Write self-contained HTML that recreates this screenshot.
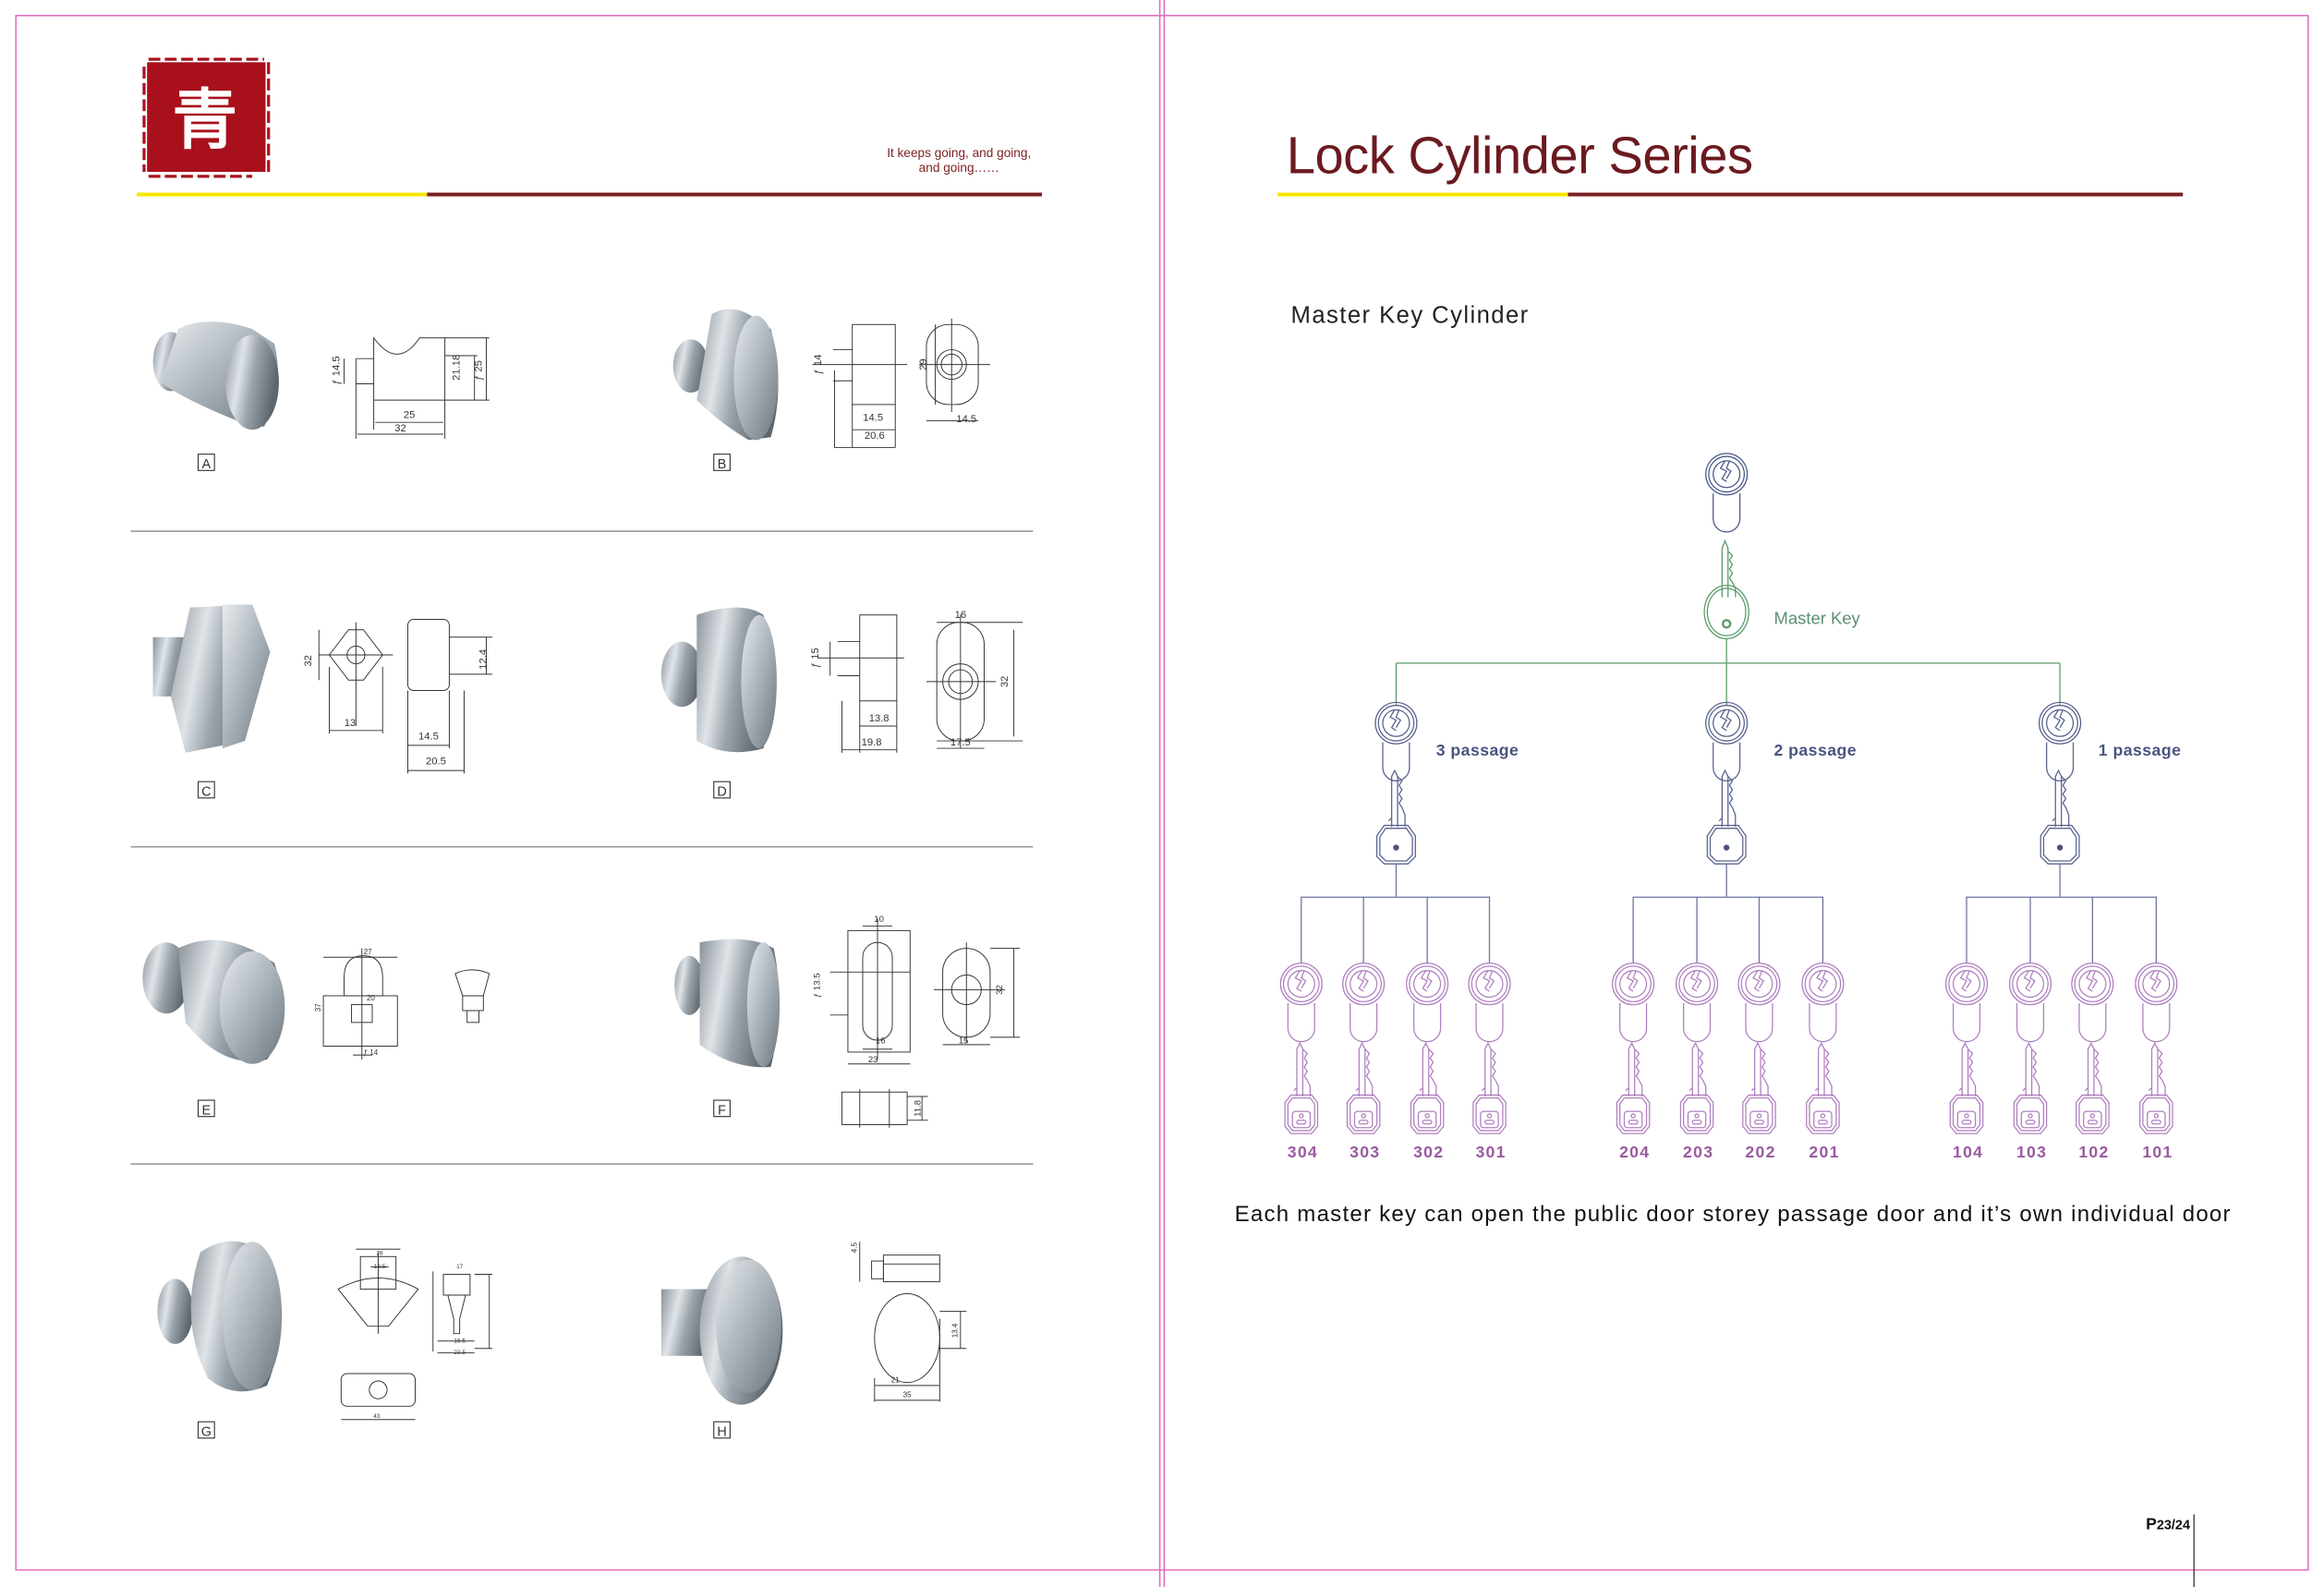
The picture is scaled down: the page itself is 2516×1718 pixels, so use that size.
<!DOCTYPE html>
<html><head><meta charset="utf-8"><style>
html,body{margin:0;padding:0;background:#fff}
svg{display:block}
text{font-family:"Liberation Sans",sans-serif}
</style></head><body>
<svg width="2516" height="1718" viewBox="0 0 1568 1071" xmlns="http://www.w3.org/2000/svg">
<defs>
<linearGradient id="met" x1="0" y1="0" x2="1" y2="0.3">
<stop offset="0" stop-color="#8a9299"/><stop offset="0.35" stop-color="#dfe4e8"/><stop offset="0.6" stop-color="#9aa3ab"/><stop offset="1" stop-color="#5e666d"/></linearGradient>
<linearGradient id="met2" x1="0" y1="0" x2="1" y2="1">
<stop offset="0" stop-color="#e8ecef"/><stop offset="0.5" stop-color="#a9b2b9"/><stop offset="1" stop-color="#6d757c"/></linearGradient>
<g id="cyl" fill="none" stroke-width="0.8">
<circle r="14"/><circle r="12"/><circle r="9"/>
<path d="M-1,-9 l-3,5 l4,2 l-3,5 l3,2 M2,-9 l-2,5 l3,2 l-3,5"/>
<path d="M-9,13 V30 a9,9 0 0 0 18,0 V13"/>
</g>
<g id="key" fill="none" stroke-width="0.8">
<path d="M-3,-10 V-44 l2,-4 l2,4 V-10 M1,-44 l3,3 l-2,3 l2,3 l-2,3 l2,3 l-2,3 l2,3 l2,5 V-10 M-3,-16 l-2,2"/>
<path d="M-13,-4 l5,-7 h16 l5,7 v14 l-5,5 h-16 l-5,-5z"/>
<path d="M-11,-3 l4,-6 h14 l4,6 v12 l-4,4 h-14 l-4,-4z"/>
</g>
<g id="skey" fill="none" stroke-width="0.8">
<path d="M-3,-8 V-40 l2,-4 l2,4 V-8 M1,-40 l3,3 l-2,3 l2,3 l-2,3 l2,3 l-2,3 l2,3 l2,4 V-8 M-3,-14 l-2,2"/>
<path d="M-11,-4 l4,-5 h14 l4,5 v16 l-4,5 h-14 l-4,-5z"/>
<path d="M-9,-3 l3,-4 h12 l3,4 v14 l-3,4 h-12 l-3,-4z"/>
<rect x="-6" y="2" width="12" height="11" rx="2"/><circle cx="0" cy="5" r="1.3"/><rect x="-3" y="8" width="6" height="2.5" rx="1.2"/>
</g>
</defs>

<!-- page frame -->
<g stroke="#e070c0" stroke-width="1" fill="none">
<rect x="10.5" y="10.5" width="1547" height="1049"/>
<line x1="782.5" y1="0" x2="782.5" y2="1071"/><line x1="785.5" y1="0" x2="785.5" y2="1071"/>
</g>

<!-- left header -->
<rect x="99" y="42" width="80" height="74" fill="#a8101c"/>
<path d="M97,45 V116 M181,42 V118 M100,40 H178 M100,119 H170" stroke="#a8101c" stroke-width="2" stroke-dasharray="8 3"/>
<text x="138" y="96" font-size="44" fill="#fff" text-anchor="middle" font-family="Noto Serif CJK SC,serif" font-weight="bold">青</text>
<text x="647" y="106" font-size="8.5" fill="#7a1f22" text-anchor="middle">It keeps going, and going,</text>
<text x="647" y="116" font-size="8.5" fill="#7a1f22" text-anchor="middle">and going……</text>
<rect x="92" y="130" width="196" height="2.5" fill="#f6e600"/>
<rect x="288" y="130" width="415" height="2.5" fill="#7a1f22"/>

<!-- separators -->
<g stroke="#999" stroke-width="1"><line x1="88" y1="358.5" x2="697" y2="358.5"/><line x1="88" y1="571.5" x2="697" y2="571.5"/><line x1="88" y1="785.5" x2="697" y2="785.5"/></g>

<!-- products -->
<g>
<!-- A -->
<ellipse cx="115" cy="244" rx="12" ry="20" fill="url(#met)"/>
<path d="M120,222 Q140,212 170,222 L185,232 Q192,262 178,288 L160,284 Q125,270 108,258 Z" fill="url(#met2)"/>
<ellipse cx="170" cy="258" rx="18" ry="32" fill="url(#met)"/>
<!-- B -->
<ellipse cx="466" cy="247" rx="12" ry="18" fill="url(#met)"/>
<path d="M480,212 Q492,205 505,212 L520,222 Q530,260 520,295 L505,297 Q485,285 470,270 Z" fill="url(#met)"/>
<ellipse cx="510" cy="255" rx="15" ry="42" fill="url(#met2)"/>
<!-- C -->
<rect x="103" y="430" width="25" height="40" fill="url(#met)"/>
<path d="M128,410 L170,408 L182,440 L165,500 L125,508 L115,470 Z" fill="url(#met)"/>
<path d="M150,408 L170,408 L182,440 L165,500 L150,505 Z" fill="url(#met2)"/>
<!-- D -->
<ellipse cx="460" cy="455" rx="14" ry="22" fill="url(#met)"/>
<path d="M470,415 Q500,405 515,415 Q528,460 515,505 Q490,512 470,500 Z" fill="url(#met)"/>
<ellipse cx="512" cy="460" rx="12" ry="45" fill="url(#met2)"/>
<!-- E -->
<ellipse cx="112" cy="660" rx="16" ry="24" fill="url(#met)"/>
<path d="M120,640 Q150,625 185,650 Q198,690 180,715 Q150,722 125,690 Z" fill="url(#met)"/>
<ellipse cx="170" cy="680" rx="22" ry="38" fill="url(#met2)"/>
<!-- F -->
<ellipse cx="465" cy="665" rx="10" ry="20" fill="url(#met)"/>
<path d="M472,636 Q505,630 522,640 Q530,680 520,720 Q495,722 472,705 Z" fill="url(#met)"/>
<ellipse cx="515" cy="678" rx="11" ry="42" fill="url(#met2)"/>
<!-- G -->
<ellipse cx="118" cy="885" rx="12" ry="22" fill="url(#met)"/>
<path d="M135,845 Q160,828 182,850 Q195,900 180,935 Q158,945 140,930 Q120,890 135,845 Z" fill="url(#met)"/>
<ellipse cx="170" cy="888" rx="20" ry="50" fill="url(#met2)"/>
<!-- H -->
<rect x="446" y="870" width="35" height="45" fill="url(#met)"/>
<ellipse cx="500" cy="898" rx="28" ry="50" fill="url(#met)"/>
<ellipse cx="505" cy="895" rx="22" ry="45" fill="url(#met2)"/>
</g>

<!-- labels -->
<g fill="none" stroke="#333" stroke-width="0.7">
<rect x="133.5" y="306.5" width="11" height="11"/><rect x="481.5" y="306.5" width="11" height="11"/>
<rect x="133.5" y="527.5" width="11" height="11"/><rect x="481.5" y="527.5" width="11" height="11"/>
<rect x="133.5" y="742.5" width="11" height="11"/><rect x="481.5" y="742.5" width="11" height="11"/>
<rect x="133.5" y="959.5" width="11" height="11"/><rect x="481.5" y="959.5" width="11" height="11"/>
</g>
<g font-size="9" fill="#333" text-anchor="middle">
<text x="139" y="316">A</text><text x="487" y="316">B</text><text x="139" y="537">C</text><text x="487" y="537">D</text>
<text x="139" y="752">E</text><text x="487" y="752">F</text><text x="139" y="969">G</text><text x="487" y="969">H</text>
</g>

<!-- technical drawings -->
<g fill="none" stroke="#333" stroke-width="0.6">
<!-- A -->
<path d="M252,228 Q268,250 283,228 L300,228 V270 H252 Z"/><path d="M240,242 H252 M240,259 H252 M240,242 V296 M300,270 V296 M252,270 V290 M300,228 H330 M300,270 H330 M300,240 H322"/>
<path d="M253,285 H299 M241,293 H299 M328,228 V270 M320,240 V270 M232,242 V259"/>
<!-- B -->
<rect x="575" y="219" width="29" height="54"/><path d="M562,236 H575 M562,257 H575 M548,246 H612 M575,273 V302 M604,273 V302 M563,302 H604 M575,290 H604 M563,250 V302"/>
<rect x="625" y="219" width="35" height="54" rx="15"/><circle cx="642" cy="246" r="10"/><circle cx="642" cy="246" r="7"/><path d="M620,246 H668 M642,215 V278 M631,219 V273 M625,284 H660"/>
<!-- C -->
<path d="M222,442 L235,425 H245 L258,442 L245,459 H235 Z"/><circle cx="240" cy="442" r="6"/><path d="M215,442 H265 M240,420 V490 M215,425 V459 M222,450 V495 M258,450 V495 M222,493 H258"/>
<rect x="275" y="418" width="28" height="48" rx="4"/><path d="M275,466 V522 M303,466 V505 M313,466 V522 M275,503 H303 M275,520 H313 M303,430 H332 M303,455 H332 M328,430 V455"/>
<!-- D -->
<rect x="580" y="415" width="25" height="58"/><path d="M565,433 H580 M565,456 H580 M552,444 H610 M580,473 V508 M605,473 V508 M568,473 V508 M568,506 H605 M580,490 H605 M560,433 V456"/>
<rect x="632" y="420" width="32" height="80" rx="15"/><circle cx="648" cy="460" r="12"/><circle cx="648" cy="460" r="8"/><path d="M625,460 H672 M648,415 V505 M632,420 H690 M632,500 H690 M684,425 V497 M632,505 H664"/>
<!-- E -->
<path d="M232,672 V660 Q232,645 245,645 Q258,645 258,660 V672 Z"/><rect x="218" y="672" width="50" height="34"/><rect x="237" y="678" width="14" height="12"/><path d="M244,640 V712 M218,646 H268 M244,705 V715 M238,712 H251"/>
<path d="M307,657 Q318,652 330,657 L326,672 H312 Z"/><rect x="312" y="672" width="14" height="10"/><rect x="315" y="682" width="8" height="8"/>
<!-- F -->
<rect x="572" y="628" width="42" height="82"/><rect x="582" y="636" width="20" height="66" rx="10"/><path d="M560,656 H614 M560,685 H572 M592,620 V715 M582,625 H602 M572,718 H614 M582,708 H602"/>
<rect x="636" y="640" width="32" height="60" rx="16"/><circle cx="652" cy="668" r="10"/><path d="M630,668 H678 M652,636 V704 M668,640 H688 M668,700 H688 M684,640 V700 M636,705 H668"/>
<rect x="568" y="737" width="44" height="22"/><path d="M580,735 V761 M600,735 V761 M612,740 H626 M612,756 H626 M622,740 V756"/>
<!-- G -->
<path d="M228,870 Q255,855 282,870 L262,895 H248 Z"/><rect x="243" y="848" width="24" height="22"/><path d="M240,843 H270 M255,845 V900 M250,855 H262"/>
<rect x="230" y="927" width="50" height="22" rx="4"/><circle cx="255" cy="938" r="6"/><path d="M230,958 H280"/>
<rect x="299" y="860" width="18" height="14"/><path d="M302,874 H314 L310,890 V900 H306 V890 Z"/><path d="M292,858 V912 M320,860 H332 M320,910 H332 M330,860 V910 M295,905 H320 M295,913 H320"/>
<!-- H -->
<rect x="588" y="851" width="8" height="12"/><rect x="596" y="847" width="38" height="18"/><path d="M580,838 V865 M596,853 H634"/>
<ellipse cx="612" cy="903" rx="22" ry="30"/><path d="M590,930 V946 M634,890 V946 M590,935 H634 M590,945 H634 M634,885 H652 M634,910 H652 M648,885 V910"/>
</g>
<g font-size="7" fill="#333" font-family="Liberation Serif,serif" text-anchor="middle">
<text x="276" y="282">25</text><text x="270" y="291">32</text>
<text transform="translate(229,250) rotate(-90)">ƒ 14.5</text><text transform="translate(310,248) rotate(-90)">21.18</text><text transform="translate(325,250) rotate(-90)">ƒ 25</text>
<text x="589" y="284">14.5</text><text x="590" y="296">20.6</text><text x="652" y="285">14.5</text>
<text transform="translate(554,246) rotate(-90)">ƒ 14</text><text transform="translate(625,246) rotate(-90)">29</text>
<text transform="translate(210,446) rotate(-90)">32</text><text x="236" y="490">13</text><text x="289" y="499">14.5</text><text x="294" y="516">20.5</text><text transform="translate(328,445) rotate(-90)">12.4</text>
<text transform="translate(552,444) rotate(-90)">ƒ 15</text><text x="593" y="487">13.8</text><text x="588" y="503">19.8</text><text x="648" y="417">16</text><text x="648" y="503">17.5</text><text transform="translate(680,460) rotate(-90)">32</text>
<text x="248" y="644" font-size="5">27</text><text x="250" y="675" font-size="5">20</text><text transform="translate(216,680) rotate(-90)" font-size="5">37</text><text x="250" y="712" font-size="5">ƒ 14</text>
<text x="593" y="622" font-size="6">10</text><text transform="translate(553,665) rotate(-90)" font-size="6">ƒ 13.5</text><text x="594" y="704" font-size="6">16</text><text x="589" y="717" font-size="6">23</text><text x="650" y="704" font-size="6">15</text><text transform="translate(676,668) rotate(-90)" font-size="6">32</text><text transform="translate(621,748) rotate(-90)" font-size="6">11.8</text>
<text x="256" y="847" font-size="4">28</text><text x="256" y="856" font-size="4">13.5</text><text x="310" y="856" font-size="4">17</text><text x="310" y="906" font-size="4">16.5</text><text x="310" y="914" font-size="4">22.5</text><text x="254" y="957" font-size="4">43</text>
<text x="604" y="933" font-size="5">21</text><text x="612" y="943" font-size="5">35</text><text transform="translate(646,898) rotate(-90)" font-size="5">13.4</text><text transform="translate(578,842) rotate(-90)" font-size="5">4.5</text>
</g>

<!-- right header -->
<text x="868" y="117" font-size="35" fill="#6b1a1f" font-family="DejaVu Sans,sans-serif" textLength="315">Lock Cylinder Series</text>
<rect x="862" y="130" width="196" height="2.5" fill="#f6e600"/>
<rect x="1058" y="130" width="415" height="2.5" fill="#7a1f22"/>
<text x="871" y="218" font-size="16" fill="#222" font-family="DejaVu Sans,sans-serif" textLength="160">Master Key Cylinder</text>

<!-- tree: master -->
<g stroke="#4a5a8a"><use href="#cyl" x="1165" y="320"/></g>
<g stroke="#5a9a6a" fill="none" stroke-width="0.8">
<path d="M1162,403 V370 l2,-5 l2,5 V403 M1166,372 l3,3 l-2,3 l2,3 l-2,3 l2,3 l-2,3 l2,3 l2,4 V403"/>
<ellipse cx="1165" cy="413" rx="15" ry="18"/><ellipse cx="1165" cy="413" rx="13" ry="16"/>
<circle cx="1165" cy="421" r="2.5" stroke-width="1.5"/>
<path d="M1165,431 V476 M942,447.5 H1390 M942,447.5 V476 M1390,447.5 V476"/>
</g>
<text x="1197" y="421" font-size="11.5" fill="#5a9070">Master Key</text>

<!-- passage -->
<g stroke="#5a648f">
<use href="#cyl" x="942" y="488"/><use href="#cyl" x="1165" y="488"/><use href="#cyl" x="1390" y="488"/>
<use href="#key" x="942" y="568"/><use href="#key" x="1165" y="568"/><use href="#key" x="1390" y="568"/>
</g>
<g fill="#4a5480" stroke="none"><circle cx="942" cy="572" r="2"/><circle cx="1165" cy="572" r="2"/><circle cx="1390" cy="572" r="2"/></g>
<g font-size="11" fill="#4a5480" font-weight="bold" letter-spacing="0.3">
<text x="969" y="510">3 passage</text><text x="1197" y="510">2 passage</text><text x="1416" y="510">1 passage</text>
</g>
<g stroke="#6c74a0" stroke-width="0.8" fill="none">
<path d="M942,583 V605 M878,605.5 H1005 M878,605 V650 M920,605 V650 M963,605 V650 M1005,605 V650"/>
<path d="M1165,583 V605 M1102,605.5 H1230 M1102,605 V650 M1145,605 V650 M1187,605 V650 M1230,605 V650"/>
<path d="M1390,583 V605 M1327,605.5 H1455 M1327,605 V650 M1370,605 V650 M1412,605 V650 M1455,605 V650"/>
</g>

<!-- leaves -->
<g stroke="#b080c0">
<use href="#cyl" x="878" y="664"/><use href="#cyl" x="920" y="664"/><use href="#cyl" x="963" y="664"/><use href="#cyl" x="1005" y="664"/>
<use href="#cyl" x="1102" y="664"/><use href="#cyl" x="1145" y="664"/><use href="#cyl" x="1187" y="664"/><use href="#cyl" x="1230" y="664"/>
<use href="#cyl" x="1327" y="664"/><use href="#cyl" x="1370" y="664"/><use href="#cyl" x="1412" y="664"/><use href="#cyl" x="1455" y="664"/>
<use href="#skey" x="878" y="748"/><use href="#skey" x="920" y="748"/><use href="#skey" x="963" y="748"/><use href="#skey" x="1005" y="748"/>
<use href="#skey" x="1102" y="748"/><use href="#skey" x="1145" y="748"/><use href="#skey" x="1187" y="748"/><use href="#skey" x="1230" y="748"/>
<use href="#skey" x="1327" y="748"/><use href="#skey" x="1370" y="748"/><use href="#skey" x="1412" y="748"/><use href="#skey" x="1455" y="748"/>
</g>
<g font-size="11" fill="#9a5aa0" font-weight="bold" text-anchor="middle" letter-spacing="0.8">
<text x="879" y="781">304</text><text x="921" y="781">303</text><text x="964" y="781">302</text><text x="1006" y="781">301</text>
<text x="1103" y="781">204</text><text x="1146" y="781">203</text><text x="1188" y="781">202</text><text x="1231" y="781">201</text>
<text x="1328" y="781">104</text><text x="1371" y="781">103</text><text x="1413" y="781">102</text><text x="1456" y="781">101</text>
</g>

<text x="833" y="824" font-size="15" fill="#111" textLength="672">Each master key can open the public door storey passage door and it’s own individual door</text>

<text x="1448" y="1032" font-size="11" font-weight="bold" fill="#111">P<tspan font-size="9">23/24</tspan></text>
<line x1="1480.5" y1="1022" x2="1480.5" y2="1071" stroke="#333" stroke-width="0.8"/>
</svg>
</body></html>
